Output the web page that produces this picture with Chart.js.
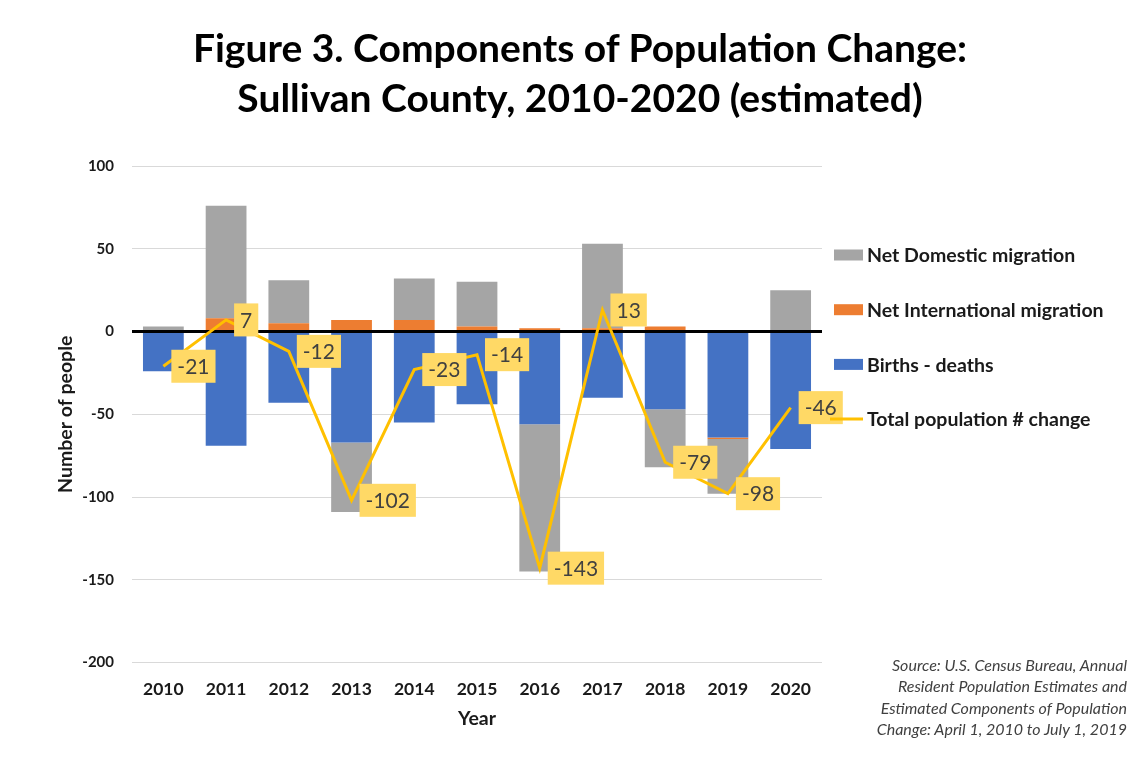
<!DOCTYPE html>
<html>
<head>
<meta charset="utf-8">
<script src="https://cdn.jsdelivr.net/npm/chart.js@4.4.1/dist/chart.umd.min.js"></script>
<style>
  body { margin: 0; background: #fff; }
  #wrap { position: relative; width: 1135px; height: 757px; }
  #title {
    position: absolute; left: 0; top: 22px; width: 1160px;
    font: bold 39px Lato, sans-serif; line-height: 50px;
    text-align: center; color: #000;
  }
  #source {
    position: absolute; right: 8px; top: 654px;
    font: italic 16px Lato, sans-serif; line-height: 21.3px;
    text-align: right; color: #404040;
  }
</style>
</head>
<body>
<div id="wrap">
  <div id="title">Figure 3. Components of Population Change:<br>Sullivan County, 2010-2020 (estimated)</div>
  <canvas id="chart"></canvas>
  <div id="source">Source: U.S. Census Bureau, Annual<br>Resident Population Estimates and<br>Estimated Components of Population<br>Change: April 1, 2010 to July 1, 2019</div>
</div>
<script>
const years = ["2010", "2011", "2012", "2013", "2014", "2015", "2016", "2017", "2018", "2019", "2020"];
const birthsDeaths = [-24, -69, -43, -67, -55, -44, -56, -40, -47, -64, -71];
const netInternational = [0, 8, 5, 7, 7, 3, 2, 2, 3, -1, 0];
const netDomestic = [3, 68, 26, -42, 25, 27, -89, 51, -35, -33, 25];
const totalChange = [-21, 7, -12, -102, -23, -14, -143, 13, -79, -98, -46];
const yTicks = [-200, -150, -100, -50, 0, 50, 100];

const FONT = "Lato, sans-serif";
const TEXT = "#1a1a1a";

// black zero line, over the bars but under the total line
const zeroLine = {
  id: "zeroLine",
  beforeDatasetDraw(chart, args) {
    if (args.index !== 3) return;
    const { ctx, chartArea } = chart;
    const y = chart.scales.y.getPixelForValue(0);
    ctx.save();
    ctx.strokeStyle = "#000";
    ctx.lineWidth = 3;
    ctx.beginPath();
    ctx.moveTo(chartArea.left, y);
    ctx.lineTo(chartArea.right, y);
    ctx.stroke();
    ctx.restore();
  }
};

// yellow value boxes to the right of each total point
const totalLabels = {
  id: "totalLabels",
  afterDraw(chart) {
    const { ctx } = chart;
    const meta = chart.getDatasetMeta(3);
    ctx.save();
    ctx.font = "21px " + FONT;
    ctx.textBaseline = "middle";
    meta.data.forEach((pt, i) => {
      const txt = String(totalChange[i]);
      const w = ctx.measureText(txt).width + 12;
      const h = 33;
      const x = pt.x + 8;
      ctx.fillStyle = "#FFD966";
      ctx.fillRect(x, pt.y - h / 2, w, h);
      ctx.fillStyle = "#404040";
      ctx.fillText(txt, x + 6, pt.y + 1);
    });
    ctx.restore();
  }
};

// legend on the right, in the order of the reference
const sideLegend = {
  id: "sideLegend",
  afterDraw(chart) {
    const { ctx, chartArea } = chart;
    const order = [2, 1, 0, 3];
    const x0 = chartArea.right + 12;
    ctx.save();
    ctx.font = "bold 19.5px " + FONT;
    ctx.textBaseline = "middle";
    order.forEach((di, k) => {
      const ds = chart.data.datasets[di];
      const y = 255 + k * 54.7;
      if (ds.type === "line") {
        ctx.strokeStyle = ds.borderColor;
        ctx.lineWidth = 3;
        ctx.beginPath();
        ctx.moveTo(x0 - 4, y);
        ctx.lineTo(x0 + 29, y);
        ctx.stroke();
      } else {
        ctx.fillStyle = ds.backgroundColor;
        ctx.fillRect(x0, y - 5.5, 29, 11);
      }
      ctx.fillStyle = TEXT;
      ctx.fillText(ds.label, x0 + 33, y + 1);
    });
    ctx.restore();
  }
};

new Chart(document.getElementById("chart"), {
  data: {
    labels: years,
    datasets: [
      { type: "bar", label: "Births - deaths", data: birthsDeaths, backgroundColor: "#4472C4", stack: "c", order: 1 },
      { type: "bar", label: "Net International migration", data: netInternational, backgroundColor: "#ED7D31", stack: "c", order: 1 },
      { type: "bar", label: "Net Domestic migration", data: netDomestic, backgroundColor: "#A5A5A5", stack: "c", order: 1 },
      { type: "line", label: "Total population # change", data: totalChange, borderColor: "#FFC000",
        borderWidth: 3, pointRadius: 0, tension: 0, stack: "total", order: 0, clip: false }
    ]
  },
  options: {
    responsive: true,
    maintainAspectRatio: false,
    animation: false,
    layout: { padding: { left: 54, right: 313, top: 166, bottom: 29 } },
    datasets: { bar: { categoryPercentage: 1, barPercentage: 0.65 } },
    scales: {
      x: {
        stacked: true,
        grid: { display: false },
        border: { display: false },
        ticks: { color: TEXT, padding: 8, font: { family: FONT, size: 17.5, weight: "bold" } },
        title: { display: true, text: "Year", color: TEXT, padding: { top: 1, bottom: 0 },
                 font: { family: FONT, size: 19.5, weight: "bold", lineHeight: 1 } }
      },
      y: {
        stacked: true,
        min: -200,
        max: 100,
        afterBuildTicks(scale) { scale.ticks = yTicks.map(v => ({ value: v })); },
        afterFit(scale) { scale.width = 78; },
        grid: { color: "#D9D9D9", drawTicks: false },
        border: { display: false },
        ticks: { color: TEXT, padding: 18, font: { family: FONT, size: 15, weight: "bold" } },
        title: { display: true, text: "Number of people", color: TEXT, padding: { top: 0, bottom: 4 },
                 font: { family: FONT, size: 19.5, weight: "bold" } }
      }
    },
    plugins: {
      legend: { display: false },
      tooltip: { enabled: false }
    }
  },
  plugins: [zeroLine, totalLabels, sideLegend]
});
</script>
</body>
</html>
